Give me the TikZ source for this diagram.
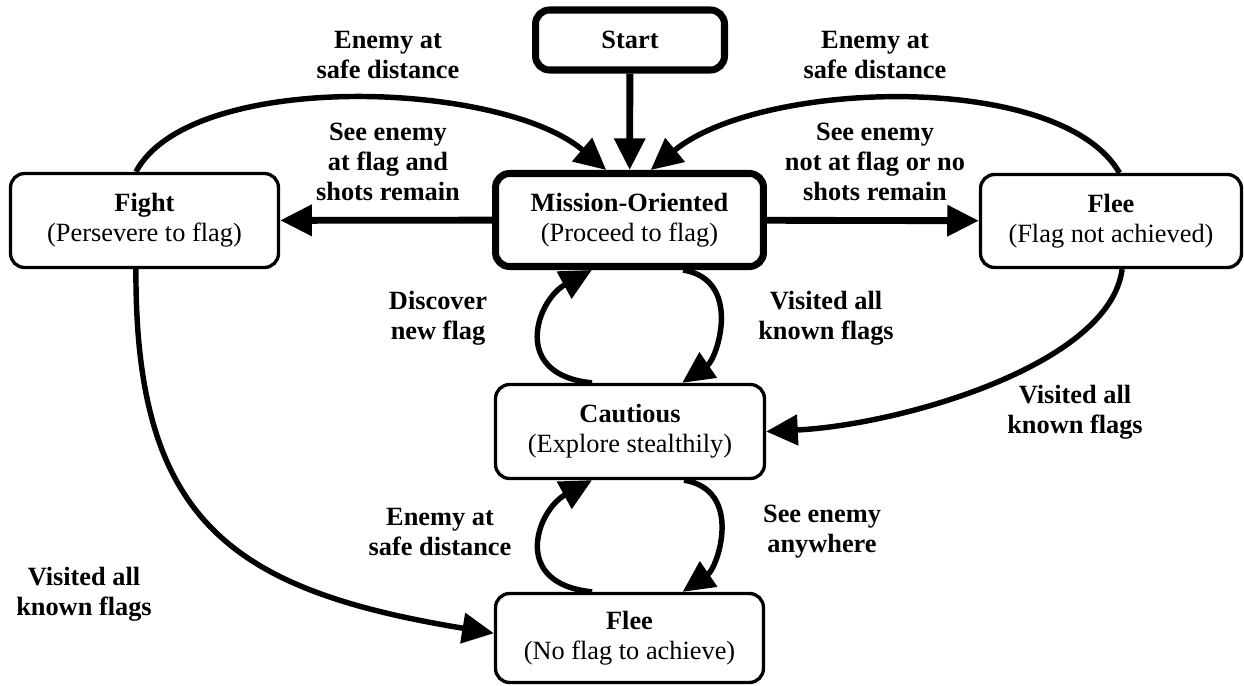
\documentclass[tikz,border=0pt]{standalone}
\usepackage{fontspec}
\setmainfont{Liberation Serif}
\usetikzlibrary{arrows.meta}
\begin{document}
\begin{tikzpicture}[x=0.02cm, y=-0.02cm]
	\tikzstyle{State} = [rectangle, draw, rounded corners=8pt, line width=1.9pt, align=center, inner sep=0pt, font=\fontsize{15}{17}\selectfont]
	\tikzstyle{Main} = [State, line width=4pt]
	\tikzstyle{Cond} = [align=center, inner sep=0pt, font=\fontsize{15}{17}\selectfont\bfseries]
	\tikzstyle{Arrow} = [line width=3.1pt, -{Triangle[length=18pt, width=17pt]}]
	\tikzstyle{Straight} = [Arrow, line width=3.9pt]
	\useasboundingbox (0,0) rectangle (1244,686);
	\node (start) at (630,40) [Main, minimum width=3.78cm, minimum height=1.2cm] {\textbf{Start}};
	\node (mission) at (629.5,220) [Main, minimum width=5.36cm, minimum height=1.86cm] {\textbf{Mission-Oriented}\\(Proceed to flag)};
	\node (fight) at (144.5,220.5) [State, minimum width=5.36cm, minimum height=1.88cm] {\textbf{Fight}\\(Persevere to flag)};
	\node (flee1) at (1111,221) [State, minimum width=5.22cm, minimum height=1.86cm] {\textbf{Flee}\\(Flag not achieved)};
	\node (cautious) at (630,431.5) [State, minimum width=5.38cm, minimum height=1.88cm] {\textbf{Cautious}\\(Explore stealthily)};
	\node (flee2) at (629.5,638) [State, minimum width=5.36cm, minimum height=1.78cm] {\textbf{Flee}\\(No flag to achieve)};
	% transition labels
	\node (c1) at (388,55) [Cond] {Enemy at\\safe distance};
	\node (c2) at (875,55) [Cond] {Enemy at\\safe distance};
	\node (c3) at (388,162) [Cond] {See enemy\\at flag and\\shots remain};
	\node (c4) at (875,162) [Cond] {See enemy\\not at flag or no\\shots remain};
	\node (c5) at (438,318) [Cond] {Discover\\new flag};
	\node (c6) at (826,318) [Cond] {Visited all\\known flags};
	\node (c7) at (1075,412) [Cond] {Visited all\\known flags};
	\node (c8) at (84,594) [Cond] {Visited all\\known flags};
	\node (c9) at (440,532) [Cond] {Enemy at\\safe distance};
	\node (c10) at (822,532) [Cond] {See enemy\\anywhere};
	% transitions
	\draw [Straight] (start) to (mission);
	\draw [Straight] (mission) to (fight);
	\draw [Straight] (mission) to (flee1);
	\draw [Arrow] (fight.100) .. controls (190,70) and (500,80) .. (mission.115);
	\draw [Arrow] (flee1.80) .. controls (1060,70) and (760,80) .. (mission.67);
	\draw [Arrow] (cautious.128) .. controls +(-82,-8) and +(-55,30) .. (mission.233);
	\draw [Arrow] (mission.317) .. controls +(60,10) and +(35,-24) .. (cautious.43);
	\draw [Arrow] (flee2.129) .. controls +(-82,-8) and +(-55,30) .. (cautious.232);
	\draw [Arrow] (cautious.318) .. controls +(60,10) and +(35,-24) .. (flee2.41);
	\draw [Arrow] (flee1.283) .. controls (1110,365) and (900,425) .. (cautious.east);
	\draw [Arrow] (fight.260) .. controls (135,520) and (230,590) .. (flee2.178);
\end{tikzpicture}
\end{document}
